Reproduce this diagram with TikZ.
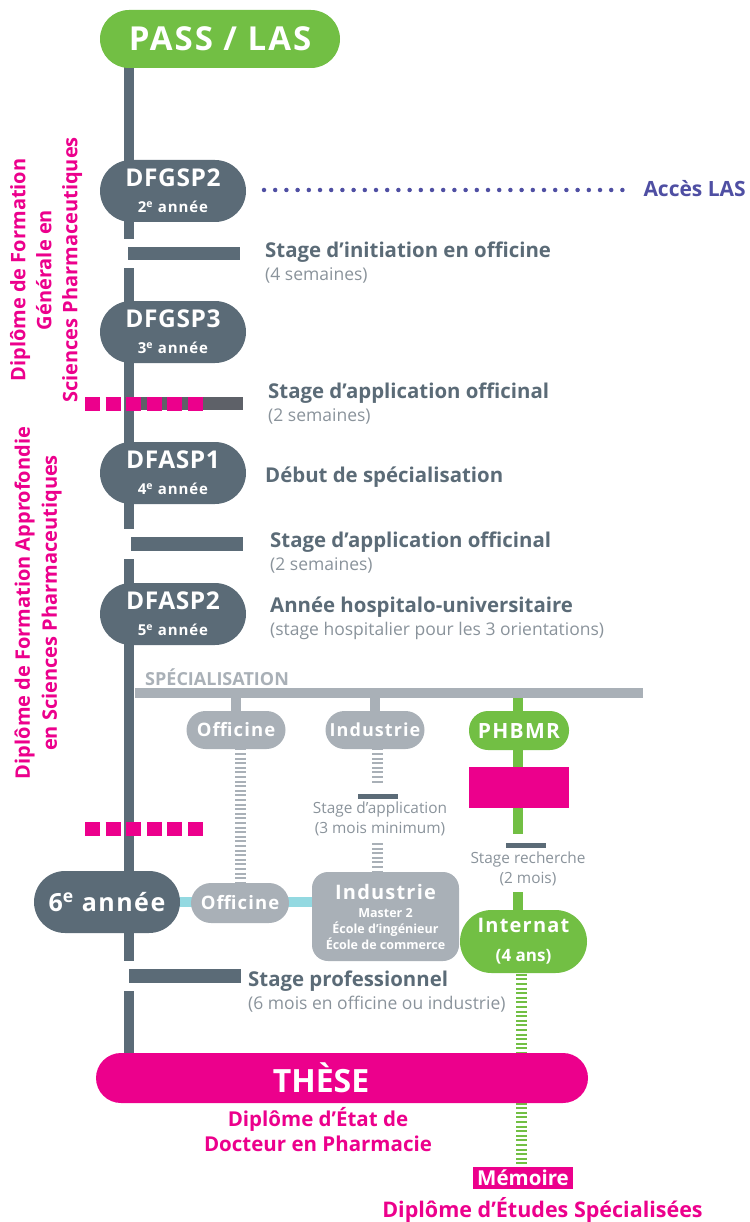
\documentclass[tikz,border=0pt]{standalone}
\usepackage{fontspec}
\setmainfont{Open Sans}
\newfontfamily\spaced{Open Sans}[LetterSpace=6]
\newfontfamily\yearfont{Open Sans}[LetterSpace=2.5]
\usetikzlibrary{positioning,backgrounds}

\definecolor{passgreen}{HTML}{72BF44}
\definecolor{slate}{HTML}{5B6B77}
\definecolor{greyblue}{HTML}{A9B0B7}
\definecolor{hotpink}{HTML}{EC008C}
\definecolor{lasblue}{HTML}{4F4FA3}
\definecolor{aqua}{HTML}{93D9E1}
\definecolor{softtext}{HTML}{8A939B}
\definecolor{bargrey}{HTML}{5E6168}

\newcommand{\fs}[2]{\fontsize{#1}{#2}\selectfont}
\newcommand{\subline}[1]{{\fs{17.5}{23}\mdseries\color{softtext}#1}}

\tikzset{
  pill/.style={rectangle, rounded corners=#1, inner sep=0pt, align=center, text=white},
  year/.style={pill=31pt, fill=slate, minimum width=146pt, minimum height=62pt, font=\fs{15}{26}\bfseries},
  branch/.style={pill=19pt, fill=greyblue, minimum width=99pt, minimum height=38pt},
  stagebar/.style={rectangle, fill=slate, inner sep=0pt, minimum width=112pt, minimum height=13pt},
  smallbar/.style={rectangle, fill=slate, inner sep=0pt, minimum width=40pt, minimum height=5pt},
  stagetxt/.style={anchor=base west, align=left, text=slate, inner sep=0pt, font=\fs{20.4}{23}\bfseries},
  smalltxt/.style={align=center, text=softtext, inner sep=0pt, font=\fs{15.4}{20}},
  trunkline/.style={slate, line width=10pt},
  ladder/.style={line width=11pt, dash pattern=on 2pt off 2.6pt},
  pinkcut/.style={hotpink, line width=14pt, dash pattern=on 15pt off 5.6pt},
}

\begin{document}
\begin{tikzpicture}[x=1pt, y=-1pt]
\useasboundingbox (0,0) rectangle (749,1222);

% tronc commun
\node[pill=29pt, fill=passgreen, minimum width=240pt, minimum height=58pt] (pass) at (220,39) {\fs{33}{36}\spaced\bfseries PASS / LAS};
\node[year] (dfgsp2) at (173,191) {{\fs{24.5}{26}\yearfont\bfseries DFGSP2}\\{\spaced 2\textsuperscript{e} année}};
\node[year] (dfgsp3) at (173,332) {{\fs{24.5}{26}\yearfont\bfseries DFGSP3}\\{\spaced 3\textsuperscript{e} année}};
\node[year] (dfasp1) at (173,473) {{\fs{24.5}{26}\yearfont\bfseries DFASP1}\\{\spaced 4\textsuperscript{e} année}};
\node[year] (dfasp2) at (173,614) {{\fs{24.5}{26}\yearfont\bfseries DFASP2}\\{\spaced 5\textsuperscript{e} année}};
\node[year] (annee6) at (107,902) {\fs{25}{26}\spaced\bfseries 6\textsuperscript{e} année};

% barres de stage
\coordinate (trunk) at (129,0);
\node[stagebar] (stage1) at (184,253.5) {};
\node[stagebar, fill=bargrey, minimum width=118pt] (stage2) at (184,403.5) {};
\node[stagebar, minimum height=14pt] (stage3) at (187,544) {};
\node[stagebar, minimum height=14pt] (stage4) at (185,976) {};

\node[stagetxt] (txtinit) at (265,280) {Stage d’initiation en officine\\\subline{(4 semaines)}};
\node[stagetxt] (txtapp1) at (268,421) {Stage d’application officinal\\\subline{(2 semaines)}};
\node[stagetxt] (txtdebut) at (265,482) {Début de spécialisation};
\node[stagetxt] (txtapp2) at (270,570) {Stage d’application officinal\\\subline{(2 semaines)}};
\node[stagetxt] (txthosp) at (270,635) {Année hospitalo-universitaire\\\subline{(stage hospitalier pour les 3 orientations)}};
\node[stagetxt] (txtpro) at (248,1009) {Stage professionnel\\\subline{(6 mois en officine ou industrie)}};

% acces LAS
\node[anchor=east, inner sep=0pt, text=lasblue, font=\fs{21}{24}\bfseries] (acces) at (746,189) {Accès LAS};
\coordinate (lasstart) at (264,190);
\draw[lasblue, line width=4.5pt, line cap=round, dash pattern=on 0pt off 11.2pt] (lasstart) -- ([xshift=-12pt]acces.west |- lasstart);

% diplomes a gauche
\node[rotate=90, align=center, text=hotpink, font=\fs{20}{26}\bfseries, inner sep=0pt] (dfgslbl) at (46,270) {Diplôme de Formation\\Générale en\\Sciences Pharmaceutiques};
\node[rotate=90, align=center, text=hotpink, font=\fs{20}{27}\bfseries, inner sep=0pt] (dfaslbl) at (38,603) {Diplôme de Formation Approfondie\\en Sciences Pharmaceutiques};

% specialisation
\node[rectangle, fill=greyblue, inner sep=0pt, minimum width=508pt, minimum height=10pt] (specbar) at (389,693) {};
\node[anchor=base west, inner sep=0pt, text=greyblue, font=\fs{18}{20}\bfseries] (speclbl) at (145,685) {SPÉCIALISATION};

\node[branch] (offtop) at (236,730) {\fs{18.5}{20}\spaced\bfseries Officine};
\node[branch] (indtop) at (375,730) {\fs{18}{20}\spaced\bfseries Industrie};
\node[branch, fill=passgreen, minimum width=100pt, minimum height=39pt] (phbmr) at (519,730.5) {\fs{21}{22}\spaced\bfseries PHBMR};
\node[rectangle, fill=hotpink, inner sep=0pt, minimum width=100pt, minimum height=41pt] (phbmrbox) at (519,787.5) {};

\node[smallbar] (appbar) at (378,796.5) {};
\node[smalltxt] (apptxt) at (380,819) {Stage d’application\\(3 mois minimum)};
\node[smallbar] (rechbar) at (525.5,845) {};
\node[smalltxt] (rechtxt) at (528,869) {Stage recherche\\(2 mois)};

\node[branch, pill=20pt, minimum width=98pt, minimum height=40pt] (offlow) at (240,903) {\fs{18.5}{20}\spaced\bfseries Officine};
\node[pill=16pt, fill=greyblue, minimum width=147pt, minimum height=89pt, font=\fs{12.5}{16}\bfseries] (indlow) at (385.5,916.5) {{\fs{20}{16}\spaced\bfseries Industrie}\\[2pt]Master 2\\École d’ingénieur\\École de commerce};
\node[pill=31.5pt, fill=passgreen, minimum width=127pt, minimum height=63pt, font=\fs{17}{29}\bfseries] (internat) at (523.5,941.5) {{\fs{20}{29}\spaced\bfseries Internat}\\(4 ans)};

% these
\node[pill=25pt, fill=hotpink, minimum width=492pt, minimum height=50pt] (these) at (342,1078) {\fs{32}{34}\bfseries THÈSE\hspace*{42pt}};
\node[align=center, text=hotpink, font=\fs{20.5}{25}\bfseries, inner sep=0pt] (dipetat) at (318,1130) {Diplôme d’État de\\Docteur en Pharmacie};
\node[rectangle, fill=hotpink, text=white, inner sep=0pt, minimum width=100pt, minimum height=22pt, font=\fs{20.5}{22}\bfseries] (memoire) at (523,1178) {Mémoire};
\node[text=hotpink, font=\fs{21.5}{24}\bfseries, inner sep=0pt] (deslbl) at (542.5,1210) {Diplôme d’Études Spécialisées};

\coordinate (indstop) at (377,785);
\coordinate (indgo) at (377,843);
\coordinate (rechstop) at (518,834);
\coordinate (rechgo) at (518,892);
\coordinate (greenx) at (521,0);
\coordinate (cut1w) at (85,403.5);
\coordinate (cut1e) at (203,403.5);
\coordinate (cut2w) at (85,829);
\coordinate (cut2e) at (203,829);

\begin{scope}[on background layer]
\draw[trunkline] (pass.center -| trunk) -- (dfgsp2.center -| trunk) -- ([yshift=8pt]stage1.north -| trunk);
\draw[trunkline] ([yshift=-8pt]stage1.south -| trunk) -- (dfgsp3.center -| trunk) -- (dfasp1.center -| trunk) -- ([yshift=8pt]stage3.north -| trunk);
\draw[trunkline] ([yshift=-8pt]stage3.south -| trunk) -- (dfasp2.center -| trunk) -- (annee6.center -| trunk) -- ([yshift=8pt]stage4.north -| trunk);
\draw[trunkline] ([yshift=-8pt]stage4.south -| trunk) -- (these.center -| trunk);

\draw[greyblue, line width=10pt] (offtop.center |- specbar.center) -- (offtop.center);
\draw[greyblue, line width=10pt] (indtop.center |- specbar.center) -- (indtop.center);
\draw[passgreen, line width=10pt] (rechstop |- specbar.center) -- (rechstop);
\draw[passgreen, line width=10pt] (rechgo) -- (rechgo |- internat.center);

\draw[ladder, greyblue] (offlow.center |- offtop.center) -- (offlow.center);
\draw[ladder, greyblue] (indstop |- indtop.center) -- (indstop);
\draw[ladder, greyblue] (indgo) -- (indgo |- indlow.center);
\draw[ladder, passgreen] (greenx |- internat.center) -- (greenx |- memoire.center);

\draw[aqua, line width=10pt] (annee6.center) -- (annee6.center -| indlow.center);
\end{scope}

% coupures
\draw[pinkcut] (cut1w) -- (cut1e);
\draw[pinkcut] (cut2w) -- (cut2e);

\end{tikzpicture}
\end{document}
